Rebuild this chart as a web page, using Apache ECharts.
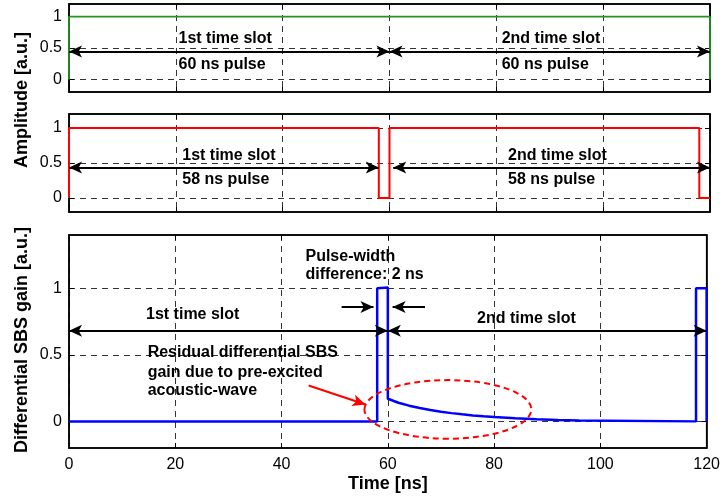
<!DOCTYPE html>
<html><head><meta charset="utf-8">
<script src="https://cdn.jsdelivr.net/npm/echarts@6/dist/echarts.min.js"></script>
<style>html,body{margin:0;padding:0;background:#fff}#c{width:723px;height:496px}</style>
</head><body><div id="c"></div>
<script>
// ---- data ----
const timeTicks = [0, 20, 40, 60, 80, 100, 120];
const ampTicks = [0, 0.5, 1];
// panel 1: 60 ns pulse
const tTop = [0, 0, 120, 120];
const aTop = [0, 1, 1, 0];
// panel 2: 58 ns pulse
const tMid = [0, 0, 58, 58, 60, 60, 118, 118, 120];
const aMid = [0, 1, 1, 0, 0, 1, 1, 0, 0];
// panel 3: differential SBS gain
const tBot = [0, 58, 58, 60, 60, 61, 62, 64, 66, 68, 70, 72, 74, 76, 78, 80, 84, 88, 92, 96, 96, 118, 118, 120, 120];
const gBot = [0, 0, 1, 1.005, 0.17, 0.155, 0.14, 0.118, 0.1, 0.085, 0.072, 0.062, 0.053, 0.045, 0.038, 0.032, 0.023, 0.016, 0.011, 0.007, 0, 0, 1, 1, 0];

const FONT = '"Liberation Sans", Arial, Helvetica, sans-serif';
const pairs = (xs, ys) => xs.map((x, i) => [x, ys[i]]);

const grids = [
  {left: 69, right: 13, top: 4, height: 88},
  {left: 69, right: 13, top: 114, height: 98},
  {left: 69, right: 13, top: 235, height: 213}
];
const yRanges = [[-0.2, 1.2], [-0.2, 1.2], [-0.2, 1.4]];

const AXLINE = {show: true, onZero: false, lineStyle: {color: '#000', width: 1.5}};
const xAxis = [], yAxis = [];
grids.forEach((g, gi) => {
  const last = gi === 2;
  xAxis.push({
    type: 'value', gridIndex: gi, position: 'bottom', min: 0, max: 120, interval: 20,
    axisLine: AXLINE,
    axisTick: {show: true, inside: true, length: 5, lineStyle: {color: '#000', width: 1}},
    axisLabel: {show: last, customValues: timeTicks, color: '#000', fontSize: 16, fontFamily: FONT, margin: 9},
    splitLine: {show: true, lineStyle: {color: '#000', width: 0.8, type: [6, 5]}},
    name: last ? 'Time [ns]' : '', nameLocation: 'middle', nameGap: 27,
    nameTextStyle: {color: '#000', fontSize: 18, fontWeight: 'bold', fontFamily: FONT}
  });
  xAxis.push({
    type: 'value', gridIndex: gi, position: 'top', min: 0, max: 120, interval: 20,
    axisLine: AXLINE,
    axisTick: {show: true, inside: true, length: 5, lineStyle: {color: '#000', width: 1}},
    axisLabel: {show: false}, splitLine: {show: false}
  });
  yAxis.push({
    type: 'value', gridIndex: gi, position: 'left', min: yRanges[gi][0], max: yRanges[gi][1],
    axisLine: AXLINE,
    axisTick: {show: true, inside: true, length: 5, customValues: ampTicks, lineStyle: {color: '#000', width: 1}},
    axisLabel: {show: true, customValues: ampTicks, color: '#000', fontSize: 16, fontFamily: FONT, margin: 7},
    splitLine: {show: false}
  });
  yAxis.push({
    type: 'value', gridIndex: gi, position: 'right', min: yRanges[gi][0], max: yRanges[gi][1],
    axisLine: AXLINE,
    axisTick: {show: true, inside: true, length: 5, customValues: ampTicks, lineStyle: {color: '#000', width: 1}},
    axisLabel: {show: false}, splitLine: {show: false}
  });
});

const hLines = {
  silent: true, symbol: 'none', z: 1, animation: false,
  label: {show: false},
  lineStyle: {color: '#000', width: 0.8, type: [6, 5]},
  data: ampTicks.map(v => ({yAxis: v}))
};

function arrowML(items) {
  return {
    silent: true, animation: false, z: 6,
    symbol: ['arrow', 'arrow'], symbolSize: [9, 13],
    label: {show: false},
    lineStyle: {color: '#000', width: 2, type: 'solid'},
    data: items
  };
}
const A = (x1, y1, x2, y2, s1, s2, color) => [
  {coord: [x1, y1], symbol: s1, lineStyle: color ? {color: color, width: 2} : undefined, itemStyle: color ? {color: color} : undefined},
  {coord: [x2, y2], symbol: s2}
];

const dataSets = [pairs(tTop, aTop), pairs(tMid, aMid), pairs(tBot, gBot)];
const colors = ['#1f961f', '#ff0000', '#0000ff'];
const widths = [1.8, 2, 2.5];

const arrows = [
  [A(0, 0.445, 60, 0.445, 'arrow', 'arrow'), A(60, 0.445, 120, 0.445, 'arrow', 'arrow')],
  [A(0, 0.437, 58, 0.437, 'arrow', 'arrow'), A(60.7, 0.437, 120, 0.437, 'arrow', 'arrow')],
  [A(0, 0.68, 60, 0.68, 'arrow', 'arrow'), A(60, 0.68, 120, 0.68, 'arrow', 'arrow'),
   A(51.3, 0.86, 57.3, 0.86, 'none', 'arrow'), A(67.0, 0.86, 60.9, 0.86, 'none', 'arrow'),
   A(45.1, 0.269, 55.8, 0.127, 'none', 'arrow', '#ff0000')]
];

const series = [];
dataSets.forEach((d, gi) => {
  series.push({
    type: 'line', xAxisIndex: gi * 2, yAxisIndex: gi * 2, data: d,
    symbol: 'none', showSymbol: false, animation: false, z: 3,
    lineStyle: {color: colors[gi], width: widths[gi]},
    markLine: hLines
  });
});
dataSets.forEach((d, gi) => {
  series.push({
    type: 'line', xAxisIndex: gi * 2, yAxisIndex: gi * 2, data: d,
    symbol: 'none', showSymbol: false, animation: false, z: 4,
    lineStyle: {opacity: 0},
    markLine: arrowML(arrows[gi])
  });
});

const chart = echarts.init(document.getElementById('c'));
chart.setOption({
  animation: false,
  backgroundColor: '#fff',
  grid: grids.map(g => Object.assign({show: true, borderColor: '#000', borderWidth: 1.5, backgroundColor: 'transparent'}, g)),
  xAxis, yAxis, series
});

// ---- annotations (data coords -> pixels) ----
const texts = [
  [0, 20.5, 0.65, '1st time slot'], [0, 20.5, 0.24, '60 ns pulse'],
  [0, 81, 0.65, '2nd time slot'], [0, 81, 0.24, '60 ns pulse'],
  [1, 21.2, 0.61, '1st time slot'], [1, 21.2, 0.26, '58 ns pulse'],
  [1, 82.2, 0.61, '2nd time slot'], [1, 82.2, 0.26, '58 ns pulse'],
  [2, 14.5, 0.80, '1st time slot'], [2, 76.8, 0.775, '2nd time slot'],
  [2, 44.5, 1.24, 'Pulse-width'], [2, 44.5, 1.10, 'difference: 2 ns'],
  [2, 14.8, 0.515, 'Residual differential SBS'], [2, 14.8, 0.37, 'gain due to pre-excited'],
  [2, 14.8, 0.23, 'acoustic-wave']
];
const graphic = texts.map(t => {
  const p = chart.convertToPixel({seriesIndex: t[0]}, [t[1], t[2]]);
  return {type: 'text', x: p[0], y: p[1], z: 20,
    style: {text: t[3], fill: '#000', font: 'bold 16px ' + FONT, textAlign: 'left', textVerticalAlign: 'middle'}};
});
// ellipse around residual gain
const c0 = chart.convertToPixel({seriesIndex: 2}, [71.3, 0.09]);
const c1 = chart.convertToPixel({seriesIndex: 2}, [71.3 + 15.7, 0.09 + 0.22]);
graphic.push({type: 'ellipse', z: 20, shape: {cx: c0[0], cy: c0[1], rx: Math.abs(c1[0] - c0[0]), ry: Math.abs(c1[1] - c0[1])},
  style: {fill: 'none', stroke: '#ff0000', lineWidth: 2, lineDash: [6, 4]}});
// y axis titles
graphic.push({type: 'text', x: 22, y: 100, rotation: Math.PI / 2, z: 20,
  style: {text: 'Amplitude [a.u.]', fill: '#000', font: 'bold 18px ' + FONT, textAlign: 'center', textVerticalAlign: 'middle'}});
graphic.push({type: 'text', x: 22, y: 340, rotation: Math.PI / 2, z: 20,
  style: {text: 'Differential SBS gain [a.u.]', fill: '#000', font: 'bold 18px ' + FONT, textAlign: 'center', textVerticalAlign: 'middle'}});
chart.setOption({graphic});
</script>
</body></html>
